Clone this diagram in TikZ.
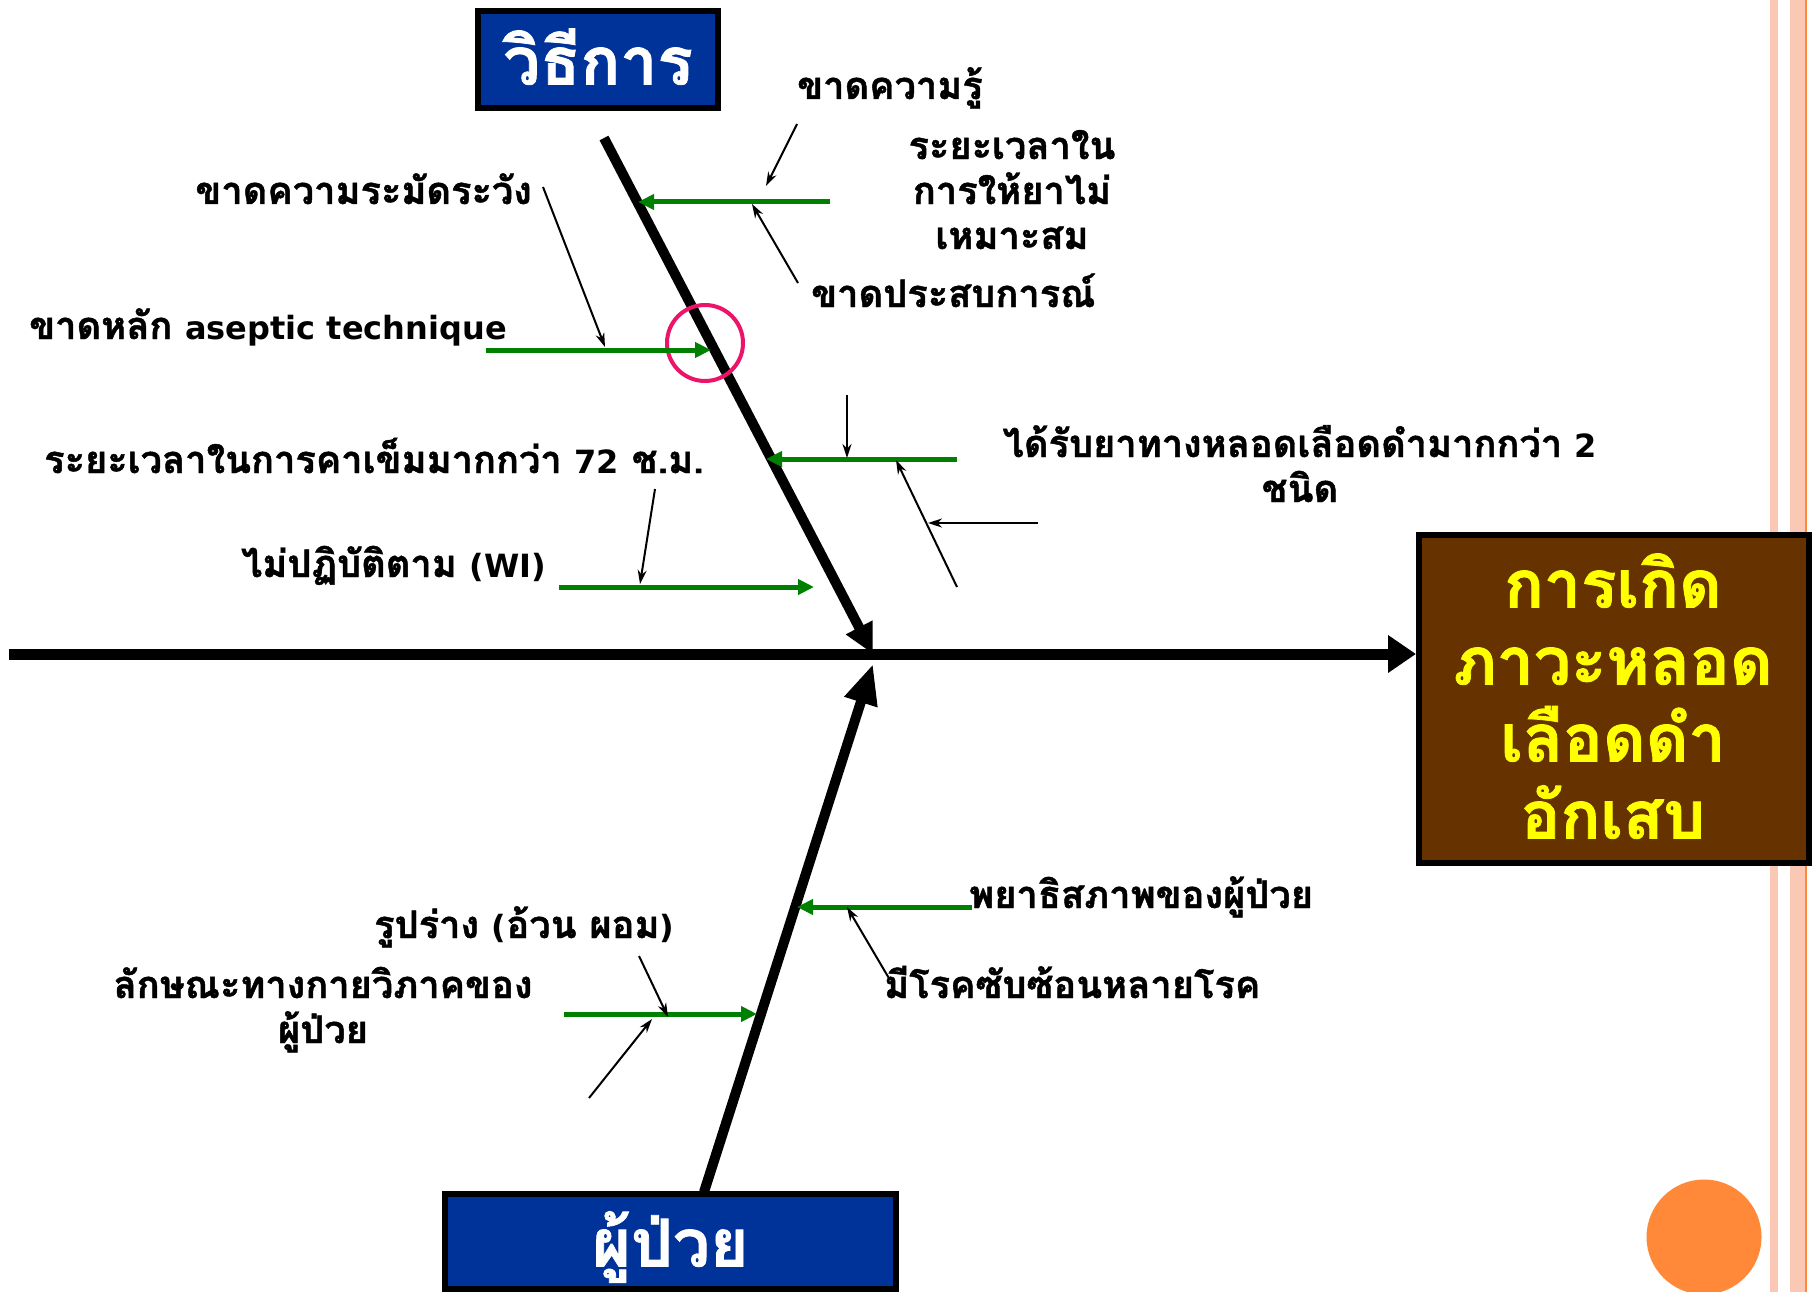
\documentclass[tikz,border=0pt]{standalone}
\usepackage{fontspec}
\newfontfamily\thai[Script=Thai, BoldFeatures={FakeBold=1.2}]{Loma}
\newfontfamily\latinb{DejaVu Sans}
\newcommand{\lat}[1]{{\latinb\fontsize{32}{45}\selectfont #1}}
\usetikzlibrary{arrows.meta}
\definecolor{boxblue}{RGB}{0,51,153}
\definecolor{effbrown}{RGB}{102,51,0}
\definecolor{effyellow}{RGB}{255,255,0}
\definecolor{cgreen}{RGB}{0,128,0}
\definecolor{ringpink}{RGB}{235,20,105}
\definecolor{stripe}{RGB}{252,200,182}
\definecolor{dotorange}{RGB}{255,137,56}
\begin{document}
\begin{tikzpicture}[x=1pt,y=-1pt,
  lbl/.style={font=\thai\bfseries\fontsize{38}{45}\selectfont, inner sep=0pt, align=center},
  thinarrow/.style={line width=2pt, -{Stealth[length=14pt,width=9pt]}},
  garrow/.style={cgreen, line width=5pt, -{Triangle[length=16pt,width=15pt]}},
  bone/.style={line width=10pt},
  catbox/.style={draw, line width=6pt, fill=boxblue, text=white, inner sep=0pt,
     font=\thai\bfseries\fontsize{66}{77}\selectfont, text depth=0pt},
]
\useasboundingbox (0,0) rectangle (1812,1292);
\fill[white] (0,0) rectangle (1812,1292);
% right decoration
\fill[stripe] (1770,0) rectangle (1778,1292);
\fill[stripe] (1790,0) rectangle (1805,1292);
\fill[dotorange] (1805,0) rectangle (1807,1292);
\node[circle, fill=dotorange, minimum size=115pt, inner sep=0pt] (dot) at (1704,1237) {};

% boxes
\node[catbox, minimum width=240pt, minimum height=97pt, text height=50pt] (method) at (598,59.5) {วิธีการ};
\node[catbox, minimum width=451pt, minimum height=95pt, text height=50pt] (patient) at (670.5,1241.5) {ผู้ป่วย};
\node[draw, line width=6pt, fill=effbrown, minimum width=390pt, minimum height=328pt, inner sep=0pt] (effect) at (1614,699) {};
\node[anchor=base, inner sep=0pt, align=center, text=effyellow, font=\thai\bfseries\fontsize{66}{77}\selectfont] (effecttxt) at (1613,838.5) {การเกิด\\ภาวะหลอด\\เลือดดำ\\อักเสบ};

% spine and bones
\coordinate (spst) at (9,654);
\draw[line width=11pt, -{Triangle[length=28pt,width=36pt]}] (spst) -- (spst -| effect.west);
\coordinate (ubt) at (604,138);
\coordinate (ujn) at (873,654);
\draw[bone, -{Triangle[length=30pt,width=28pt]}] (ubt) -- (ujn);
\coordinate (lbb) at (704,1192);
\coordinate (ljn) at (873,664);
\draw[bone, -{Triangle[length=40pt,width=32pt]}] (lbb) -- (ljn);

% ring
\node[circle, draw=ringpink, line width=4pt, minimum size=76pt, inner sep=0pt] (ring) at (705,343) {};

% labels
\node[lbl, anchor=base west] (l1) at (797,99) {ขาดความรู้};
\node[lbl, anchor=base] (l2) at (1012,249) {ระยะเวลาใน\\การให้ยาไม่\\เหมาะสม};
\node[lbl, anchor=base east] (l3) at (532,204) {ขาดความระมัดระวัง};
\node[lbl, anchor=base west] (l4) at (811,307) {ขาดประสบการณ์};
\node[lbl, anchor=base west] (l5) at (29,339) {ขาดหลัก \lat{aseptic technique}};
\node[lbl, anchor=base west] (l6) at (44,473) {ระยะเวลาในการคาเข็มมากกว่า \lat{72} ช.ม.};
\node[lbl, anchor=base west] (l7) at (241,577) {ไม่ปฏิบัติตาม \lat{(WI)}};
\node[lbl, anchor=base] (l8) at (1300,502) {ได้รับยาทางหลอดเลือดดำมากกว่า \lat{2}\\ชนิด};
\node[lbl, anchor=base west] (l9) at (969,908) {พยาธิสภาพของผู้ป่วย};
\node[lbl, anchor=base west] (l10) at (884,998) {มีโรคซับซ้อนหลายโรค};
\node[lbl, anchor=base west] (l11) at (374,938) {รูปร่าง \lat{(}อ้วน ผอม\lat{)}};
\node[lbl, anchor=base] (l12) at (323,1043) {ลักษณะทางกายวิภาคของ\\ผู้ป่วย};

% green arrows
\coordinate (g1s) at (830,202); \coordinate (g1e) at (638,202);
\coordinate (g2s) at (486,350); \coordinate (g2e) at (711,350);
\coordinate (g3s) at (957,459); \coordinate (g3e) at (766,459);
\coordinate (g4s) at (559,587); \coordinate (g4e) at (814,587);
\coordinate (g5s) at (972,907); \coordinate (g5e) at (797,907);
\coordinate (g6s) at (564,1014); \coordinate (g6e) at (757,1014);
\foreach \g in {1,...,6} {\draw[garrow] (g\g s) -- (g\g e);}

% thin black arrows
\coordinate (b1s) at (797,124); \coordinate (b1e) at (766,186);
\coordinate (b2s) at (798,283); \coordinate (b2e) at (752,204);
\coordinate (b3s) at (543,187); \coordinate (b3e) at (605,347);
\coordinate (b4s) at (847,395); \coordinate (b4e) at (847,458);
\coordinate (b5s) at (957,587); \coordinate (b5e) at (896,460);
\coordinate (b6s) at (1038,523); \coordinate (b6e) at (928,523);
\coordinate (b7s) at (655,489); \coordinate (b7e) at (640,584);
\coordinate (b8s) at (890,980); \coordinate (b8e) at (847,907);
\coordinate (b9s) at (639,956); \coordinate (b9e) at (668,1017);
\coordinate (b10s) at (589,1098); \coordinate (b10e) at (652,1019);
\foreach \b in {1,...,10} {\draw[thinarrow] (b\b s) -- (b\b e);}
\end{tikzpicture}
\end{document}
